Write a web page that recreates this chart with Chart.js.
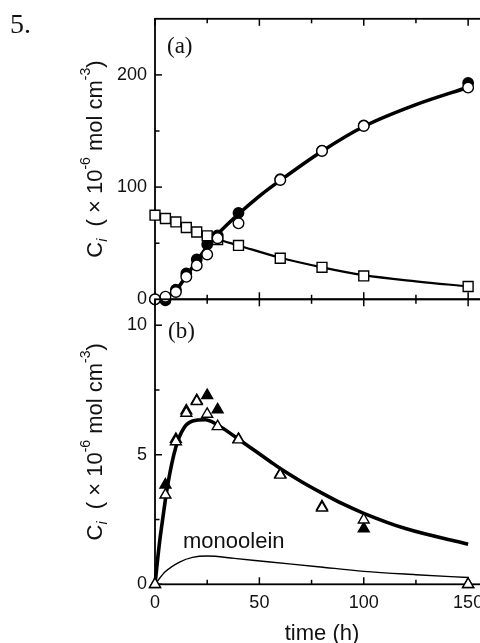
<!DOCTYPE html>
<html><head><meta charset="utf-8">
<script src="https://cdn.jsdelivr.net/npm/chart.js@4.4.1/dist/chart.umd.min.js"></script>
<style>
html,body{margin:0;padding:0;background:#fff;overflow:hidden;width:480px;height:643px;}
canvas{position:absolute;left:0;top:0;}
</style></head><body>
<canvas id="ca" width="500" height="643"></canvas>
<canvas id="cb" width="500" height="643"></canvas>
<script>
// ---------- data ----------
const timesA = [0, 5, 10, 15, 20, 25, 30, 40, 60, 80, 100, 150];
const squaresA = [75, 72, 69, 64, 60, 56.6, 53.3, 48, 36.6, 28.5, 20.8, 11.4];
const openCirclesA = [0, 2.3, 6.5, 20, 30.2, 40, 54.5, 67.7, 106.4, 132.2, 154.5, 188.7];
const filledCirclesA = [0, -1, 8.5, 23, 35.5, 49, 57, 77, 107, 132.5, 155, 192.8];

const curveTimeA = [0, 3, 5, 10, 15, 20, 25, 30, 40, 50, 60, 80, 100, 125, 150];
const curveProductA = [0, 0.5, 2, 8, 21, 34, 47, 58, 76, 92, 106, 132, 154, 173.5, 189];
const curveTimeSq = [0, 5, 10, 15, 20, 25, 30, 40, 60, 80, 100, 125, 150];
const curveSubstrateA = [75, 71.8, 68.5, 64.5, 60.5, 56.8, 53.5, 48, 37, 28.5, 21.5, 16, 11.5];

const timesB = [0, 5, 10, 15, 20, 25, 30, 40, 60, 80, 100, 150];
const openTriB = [0, 3.45, 5.51, 6.61, 7.06, 6.57, 6.09, 5.58, 4.22, 2.95, 2.49, 0];
const filledTriB = [0, 3.84, 5.6, 6.7, 7.1, 7.29, 6.74, 5.6, 4.25, 3.0, 2.15, 0];

const curveTimeB = [0, 2, 4, 6, 10, 14, 18, 24, 30, 40, 55, 60, 70, 80, 90, 100, 120, 150];
const curveIntermediateB = [0, 1.5, 2.7, 3.8, 5.3, 6.05, 6.3, 6.35, 6.15, 5.6, 4.75, 4.47, 3.97, 3.52, 3.1, 2.74, 2.15, 1.55];
const monoTime = [0, 5, 12, 18, 25, 38, 54, 78, 100, 125, 150];
const monoolein = [0, 0.49, 0.87, 1.04, 1.09, 1.0, 0.87, 0.68, 0.5, 0.37, 0.26];

const xTicks = [0, 50, 100, 150];
const xMinor = [25, 75, 125];
const yTicksA = [0, 100, 200];
const yMinorA = [50, 150];
const yTicksB = [0, 5, 10];
const yMinorB = [2.5, 7.5];

// ---------- helpers ----------
const SANS = '"Liberation Sans", Arial, sans-serif';
const SERIF = '"Liberation Serif", "Times New Roman", serif';
Chart.defaults.font.family = SANS;
Chart.defaults.color = '#111';

const pts = (xs, ys) => xs.map((x, i) => ({x: x, y: ys[i]}));

function curve(xs, ys, w) {
  return {data: pts(xs, ys), showLine: true, borderColor: '#000', borderWidth: w,
    pointRadius: 0, cubicInterpolationMode: 'monotone', fill: false, clip: false, order: 10};
}
function marks(xs, ys, style, r, fillCol, ord) {
  return {data: pts(xs, ys), showLine: false, pointStyle: style, pointRadius: r,
    pointBackgroundColor: fillCol, pointBorderColor: '#000', pointBorderWidth: 1.4,
    clip: false, order: ord};
}

function drawYTitle(ctx, bx, cy) {
  const big = '22px ' + SANS, small = '14px ' + SANS, it = 'italic 14px ' + SANS;
  const segs = [['C', big, 0], ['i', it, 5], ['  ( × 10', big, 0], ['-6', small, -12],
    [' mol cm', big, 0], ['-3', small, -12], [')', big, 0]];
  ctx.save();
  let total = 0;
  segs.forEach(s => { ctx.font = s[1]; s.push(ctx.measureText(s[0]).width); total += s[3]; });
  ctx.translate(bx, cy);
  ctx.rotate(-Math.PI / 2);
  ctx.fillStyle = '#111';
  ctx.textBaseline = 'alphabetic';
  let x = -total / 2;
  segs.forEach(s => { ctx.font = s[1]; ctx.fillText(s[0], x, s[2]); x += s[3]; });
  ctx.restore();
}

function framePlugin(yMajor, yMinor) {
  return {
    id: 'frame',
    beforeDatasetsDraw(chart) {
      const {ctx, chartArea: a, scales: {x, y}} = chart;
      ctx.save();
      ctx.strokeStyle = '#000';
      ctx.lineWidth = 1.8;
      ctx.strokeRect(a.left, a.top, a.right - a.left, a.bottom - a.top);
      ctx.lineWidth = 1.5;
      const seg = (x1, y1, x2, y2) => { ctx.beginPath(); ctx.moveTo(x1, y1); ctx.lineTo(x2, y2); ctx.stroke(); };
      xTicks.forEach(v => { const p = x.getPixelForValue(v); seg(p, a.bottom, p, a.bottom - 7); seg(p, a.top, p, a.top + 7); });
      xMinor.forEach(v => { const p = x.getPixelForValue(v); seg(p, a.bottom, p, a.bottom - 4.5); seg(p, a.top, p, a.top + 4.5); });
      yMajor.forEach(v => { const p = y.getPixelForValue(v); seg(a.left, p, a.left + 7, p); seg(a.right, p, a.right - 7, p); });
      yMinor.forEach(v => { const p = y.getPixelForValue(v); seg(a.left, p, a.left + 4.5, p); seg(a.right, p, a.right - 4.5, p); });
      ctx.restore();
    }
  };
}

function yScale(min, max, ticks) {
  return {
    type: 'linear', min: min, max: max,
    afterBuildTicks: s => { s.ticks = ticks.map(v => ({value: v})); },
    afterFit: s => { s.width = 155; },
    grid: {display: false, drawTicks: false}, border: {display: false},
    ticks: {font: {size: 18}, color: '#111', padding: 8}
  };
}

// ---------- panel (a) ----------
new Chart(document.getElementById('ca'), {
  type: 'scatter',
  data: {datasets: [
    curve(curveTimeA, curveProductA, 3.6),
    curve(curveTimeSq, curveSubstrateA, 2.2),
    marks(timesA, filledCirclesA, 'circle', 5.2, '#000', 5),
    marks(timesA, squaresA, 'rect', 7, '#fff', 2),
    marks(timesA, openCirclesA, 'circle', 5.3, '#fff', 1)
  ]},
  options: {
    responsive: false, animation: false, devicePixelRatio: 1,
    layout: {padding: {left: 0, right: 11, top: 15, bottom: 343.7}},
    plugins: {legend: {display: false}, tooltip: {enabled: false}},
    scales: {
      x: {type: 'linear', min: 0, max: 160, display: false},
      y: yScale(0, 250, yTicksA)
    }
  },
  plugins: [framePlugin(yTicksA, yMinorA), {
    id: 'textA',
    afterDraw(chart) {
      const ctx = chart.ctx;
      ctx.save();
      ctx.fillStyle = '#111';
      ctx.font = '28px ' + SERIF;
      ctx.fillText('5.', 10, 33);
      ctx.font = '23px ' + SERIF;
      ctx.fillText('(a)', 167, 52.5);
      ctx.restore();
      const a = chart.chartArea;
      drawYTitle(ctx, 101.5, (a.top + a.bottom) / 2);
    }
  }]
});

// ---------- panel (b) ----------
new Chart(document.getElementById('cb'), {
  type: 'scatter',
  data: {datasets: [
    curve(curveTimeB, curveIntermediateB, 3.6),
    curve(monoTime, monoolein, 1.4),
    marks(timesB, filledTriB, 'triangle', 6.3, '#000', 5),
    marks(timesB, openTriB, 'triangle', 6.3, '#fff', 1)
  ]},
  options: {
    responsive: false, animation: false, devicePixelRatio: 1,
    layout: {padding: {left: 0, right: 11, top: 299.3, bottom: 0}},
    plugins: {legend: {display: false}, tooltip: {enabled: false}},
    scales: {
      x: {
        type: 'linear', min: 0, max: 160,
        afterBuildTicks: s => { s.ticks = xTicks.map(v => ({value: v})); },
        afterFit: s => { s.height = 58.7; },
        grid: {display: false, drawTicks: false}, border: {display: false},
        ticks: {font: {size: 18}, color: '#111', padding: 8, maxRotation: 0}
      },
      y: yScale(0, 11, yTicksB)
    }
  },
  plugins: [framePlugin(yTicksB, yMinorB), {
    id: 'textB',
    afterDraw(chart) {
      const ctx = chart.ctx, a = chart.chartArea;
      ctx.save();
      ctx.fillStyle = '#111';
      ctx.font = '23px ' + SERIF;
      ctx.fillText('(b)', 168, 337.5);
      ctx.font = '22px ' + SANS;
      ctx.fillText('monoolein', 183, 548);
      ctx.textAlign = 'center';
      ctx.fillText('time (h)', (a.left + a.right) / 2, 640);
      ctx.restore();
      drawYTitle(ctx, 101.5, (a.top + a.bottom) / 2);
    }
  }]
});
</script>
</body></html>
